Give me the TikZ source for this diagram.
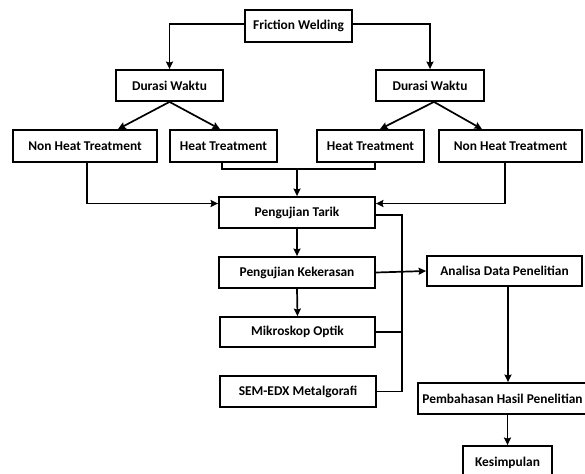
\documentclass[tikz,border=0pt]{standalone}
\usepackage{fontspec}
\setmainfont{Carlito}
\usetikzlibrary{arrows.meta}
\tikzset{
  box/.style={draw, line width=1.8pt, rectangle, inner sep=0pt, font=\bfseries\fontsize{13.4}{15}\selectfont, text=black},
  conn/.style={line width=1.7pt},
  arr/.style={conn, -{Stealth[length=7.5pt,width=7pt,inset=1pt]}}
}
\begin{document}
\begin{tikzpicture}[x=1pt,y=-1pt]
\useasboundingbox (0,0) rectangle (585,473);
\fill[white] (0,0) rectangle (585,473);
\clip (0,0) rectangle (585,473);
\node[box, minimum width=107pt, minimum height=32pt] (fw) at (298.5,26) {Friction Welding};
\node[box, minimum width=107pt, minimum height=31pt] (dl) at (169.5,85.5) {Durasi Waktu};
\node[box, minimum width=108pt, minimum height=31pt] (dr) at (430,85.5) {Durasi Waktu};
\node[box, minimum width=144pt, minimum height=32pt] (nl) at (85,146) {Non Heat Treatment};
\node[box, minimum width=107pt, minimum height=32pt] (hl) at (223.5,146) {Heat Treatment};
\node[box, minimum width=107pt, minimum height=32pt] (hr) at (370.5,146) {Heat Treatment};
\node[box, minimum width=143pt, minimum height=32pt] (nr) at (510.5,146) {Non Heat Treatment};
\node[box, minimum width=156pt, minimum height=31pt] (tarik) at (297,212.5) {Pengujian Tarik};
\node[box, minimum width=156pt, minimum height=31pt] (keker) at (297,272.5) {Pengujian Kekerasan};
\node[box, minimum width=155pt, minimum height=30pt] (mikro) at (297.5,332) {Mikroskop Optik};
\node[box, minimum width=156pt, minimum height=31pt] (sem) at (298,391.5) {SEM-EDX Metalgorafi};
\node[box, minimum width=155pt, minimum height=30pt] (analisa) at (504.5,271) {Analisa Data Penelitian};
\node[box, minimum width=169pt, minimum height=31pt] (pemb) at (502.5,398.5) {Pembahasan Hasil Penelitian};
\node[box, minimum width=89pt, minimum height=34pt] (kesim) at (507.5,463) {Kesimpulan};

\coordinate (hj) at (297,169);
\coordinate (bt) at (402,215);
\coordinate (bb) at (402,391.5);

\draw[arr] ([yshift=2pt]fw.west) -| (dl.north);
\draw[arr] ([yshift=2pt]fw.east) -| (dr.north);
\draw[arr] (dl.south) -- ([xshift=33pt]nl.north);
\draw[arr] (dl.south) -- ([xshift=-3.5pt]hl.north);
\draw[arr] ([xshift=4pt]dr.south) -- ([xshift=9.5pt]hr.north);
\draw[arr] ([xshift=4pt]dr.south) -- ([xshift=-28.5pt]nr.north);

\draw[arr] ([xshift=2pt]nl.south) |- ([yshift=9pt]tarik.west);
\draw[arr] ([xshift=-5.5pt]nr.south) |- ([yshift=9pt]tarik.east);
\draw[conn] ([xshift=-1.5pt]hl.south) |- (hj);
\draw[conn] ([xshift=4.5pt]hr.south) |- (hj);
\draw[arr] (hj) -- (tarik.north);

\draw[arr] (tarik.south) -- (keker.north);
\draw[arr] (keker.south) -- (mikro.north);
\draw[arr] (keker.east) -- (analisa.west);

\draw[conn] ([yshift=-2.5pt]tarik.east) -- (bt) -- (bb) -- (sem.east);
\draw[conn] (mikro.east) -- (mikro.east -| bt);

\draw[arr] ([xshift=3.5pt]analisa.south) -- ([xshift=3.5pt]analisa.south |- pemb.north);
\draw[arr] (kesim.north |- pemb.south) -- (kesim.north);
\end{tikzpicture}
\end{document}
